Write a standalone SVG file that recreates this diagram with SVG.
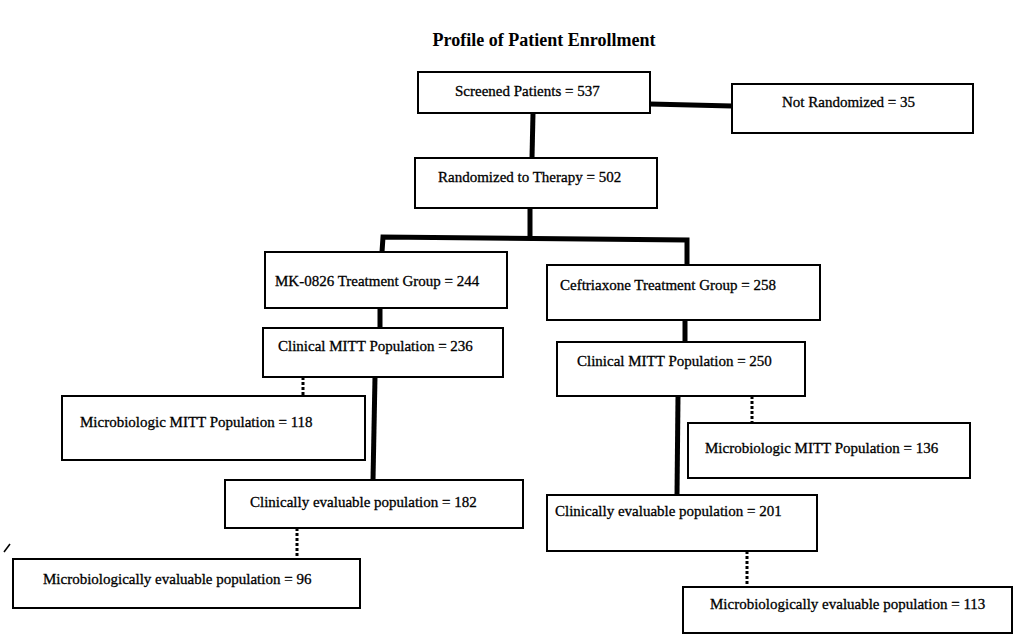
<svg xmlns="http://www.w3.org/2000/svg" width="1014" height="642" viewBox="0 0 1014 642">
<style>
.box{fill:#fff;stroke:#000;stroke-width:2}
.t{font-family:"Liberation Serif","Times New Roman",serif;font-size:15px;fill:#000;stroke:#000;stroke-width:0.3}
.title{font-family:"Liberation Serif","Times New Roman",serif;font-size:18px;font-weight:bold;fill:#000}
.thick{stroke:#000;stroke-width:5;fill:none}
.dot{stroke:#000;stroke-width:3;stroke-dasharray:3 2;fill:none}
</style>
<rect width="1014" height="642" fill="#fff"/>
<text class="title" x="544" y="46" text-anchor="middle">Profile of Patient Enrollment</text>
<g id="connectors">
<line class="thick" x1="650" y1="104" x2="732" y2="106"/>
<line class="thick" x1="533" y1="113" x2="532" y2="158"/>
<line class="thick" x1="530" y1="208" x2="530" y2="238"/>
<polyline class="thick" points="382,252 383,237 687,240 687,265"/>
<line class="thick" x1="380" y1="308" x2="380" y2="328"/>
<line class="thick" x1="685" y1="320" x2="685" y2="342"/>
<line class="thick" x1="375" y1="377" x2="373" y2="480"/>
<line class="thick" x1="678" y1="396" x2="677" y2="495"/>
<line class="dot" x1="303" y1="377" x2="303" y2="396"/>
<line class="dot" x1="752" y1="396" x2="752" y2="423"/>
<line class="dot" x1="297" y1="528" x2="297" y2="559"/>
<line class="dot" x1="747" y1="551" x2="747" y2="587"/>
</g>
<g id="screened"><rect class="box" x="418" y="72" width="232" height="41"/><text class="t" x="455" y="96">Screened Patients = 537</text></g>
<g id="notrandomized"><rect class="box" x="732" y="84" width="241" height="49"/><text class="t" x="782" y="107">Not Randomized = 35</text></g>
<g id="randomized"><rect class="box" x="415" y="158" width="242" height="50"/><text class="t" x="438" y="182">Randomized to Therapy = 502</text></g>
<g id="mk"><rect class="box" x="265" y="252" width="242" height="56"/><text class="t" x="275" y="286">MK-0826 Treatment Group = 244</text></g>
<g id="cef"><rect class="box" x="547" y="265" width="273" height="55"/><text class="t" x="560" y="290">Ceftriaxone Treatment Group = 258</text></g>
<g id="cm236"><rect class="box" x="263" y="328" width="240" height="49"/><text class="t" x="278" y="351">Clinical MITT Population = 236</text></g>
<g id="cm250"><rect class="box" x="557" y="342" width="248" height="54"/><text class="t" x="577" y="366">Clinical MITT Population = 250</text></g>
<g id="mm118"><rect class="box" x="62" y="396" width="303" height="64"/><text class="t" x="80" y="427">Microbiologic MITT Population = 118</text></g>
<g id="mm136"><rect class="box" x="688" y="423" width="282" height="55"/><text class="t" x="705" y="453">Microbiologic MITT Population = 136</text></g>
<g id="ce182"><rect class="box" x="225" y="480" width="298" height="48"/><text class="t" x="250" y="507">Clinically evaluable population = 182</text></g>
<g id="ce201"><rect class="box" x="547" y="495" width="270" height="56"/><text class="t" x="555" y="516">Clinically evaluable population = 201</text></g>
<g id="me96"><rect class="box" x="13" y="559" width="347" height="49"/><text class="t" x="43" y="584">Microbiologically evaluable population = 96</text></g>
<g id="me113"><rect class="box" x="683" y="587" width="329" height="46"/><text class="t" x="710" y="609">Microbiologically evaluable population = 113</text></g>
<line x1="4" y1="552" x2="10" y2="544" stroke="#000" stroke-width="1.5"/>
</svg>
